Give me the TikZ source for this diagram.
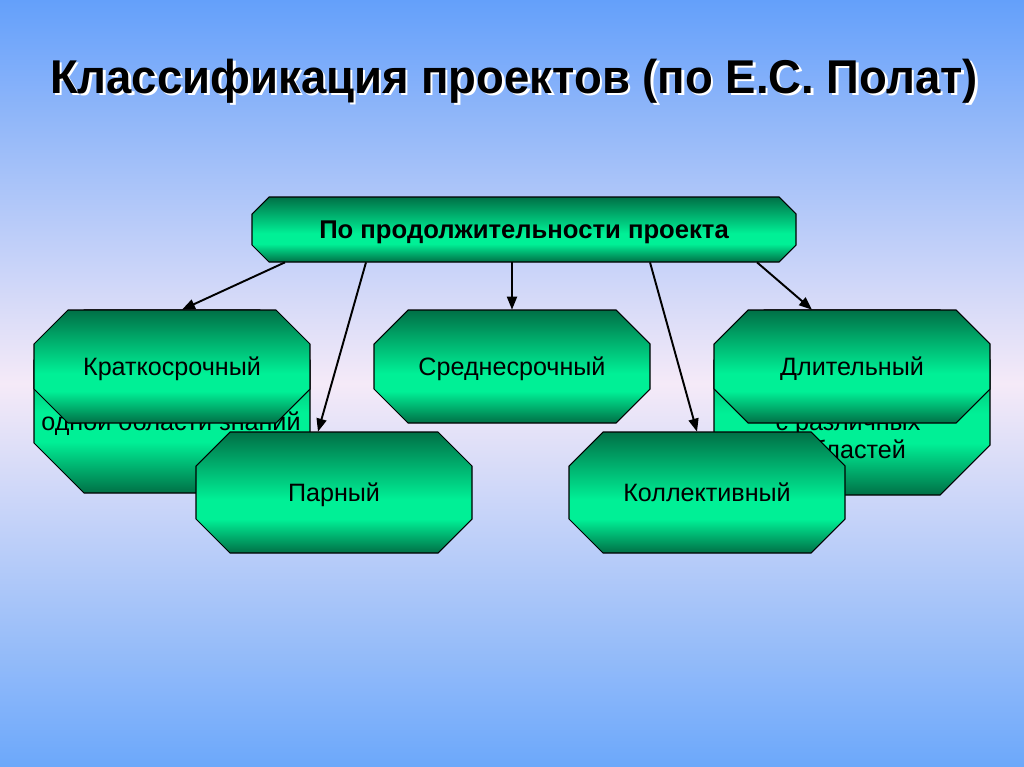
\documentclass[tikz,border=0pt]{standalone}
\usepackage{fontspec}
\setmainfont{Liberation Sans}
\usetikzlibrary{arrows.meta,calc}
\definecolor{bgtop}{RGB}{100,160,250}
\definecolor{bgmid}{RGB}{245,234,248}
\definecolor{bgbot}{RGB}{108,168,250}
\definecolor{gdark}{RGB}{0,112,70}
\definecolor{gbright}{RGB}{0,240,150}
\pgfdeclareverticalshading{bgshade}{100bp}{color(0bp)=(bgbot); color(25bp)=(bgbot); color(50bp)=(bgmid); color(75bp)=(bgtop); color(100bp)=(bgtop)}
\pgfdeclareverticalshading{greenshade}{100bp}{color(0bp)=(gdark); color(25bp)=(gdark); color(39bp)=(gbright); color(47bp)=(gbright); color(75bp)=(gdark); color(100bp)=(gdark)}
\newcommand\myocta[5]{%
  \path[octa] (#1+#5,#2) -- (#3-#5,#2) -- (#3,#2+#5) -- (#3,#4-#5) -- (#3-#5,#4) -- (#1+#5,#4) -- (#1,#4-#5) -- (#1,#2+#5) -- cycle;}
\tikzset{
  octa/.style={draw=black, line width=0.6pt, shade, shading=greenshade},
  lbl/.style={font=\fontsize{14.3}{17}\selectfont, text=black, inner sep=0pt, text height=10.2pt, text depth=0pt, minimum width=5.52cm, minimum height=2.26cm},
  lbltall/.style={lbl, minimum height=2.42cm},
  toplbl/.style={font=\fontsize{14.6}{17}\selectfont\bfseries, text=black, inner sep=0pt, text height=10.45pt, text depth=0pt, minimum width=10.88cm, minimum height=1.3cm},
  hid/.style={font=\fontsize{14.3}{17}\selectfont, text=black, inner sep=0pt, anchor=base},
  arr/.style={draw=black, line width=1.1pt, -{Triangle[length=2.6mm, width=2mm]}},
  ttl/.style={anchor=base, inner sep=0pt, font=\fontsize{27}{30}\selectfont\bfseries}
}
\begin{document}
\begin{tikzpicture}[x=0.02cm,y=-0.02cm]
\useasboundingbox (0,0) rectangle (1024,767);
\shade[shading=bgshade] (0,0) rectangle (1024,767);
% title
\node[ttl, text=white] (titleshadow) at (516.5,95.5) {\resizebox{18.56cm}{\height}{Классификация проектов (по Е.С. Полат)}};
\node[ttl, text=black] (title) at (514,93.5) {\resizebox{18.56cm}{\height}{Классификация проектов (по Е.С. Полат)}};
% back shapes
\myocta{34}{310}{310}{493}{50}
\node[hid] (backltext) at (171,430) {одной области знаний};
\myocta{714}{310}{990}{495}{50}
\node[hid] (backrtext1) at (848,430) {с различных};
\node[hid] (backrtext2) at (852,458) {областей};
% front row
\myocta{34}{310}{310}{423}{34}
\node[lbl] (kr) at (172,366.5) {Краткосрочный};
\myocta{374}{310}{650}{423}{34}
\node[lbl] (sr) at (512,366.5) {Среднесрочный};
\myocta{714}{310}{990}{423}{34}
\node[lbl] (dl) at (852,366.5) {Длительный};
% top box
\myocta{252}{197}{796}{262}{17}
\node[toplbl] (top) at (524,229.5) {По продолжительности проекта};
% second row
\myocta{196}{432}{472}{553}{34}
\node[lbltall] (par) at (334,492.5) {Парный};
\myocta{569}{432}{845}{553}{34}
\node[lbltall] (kol) at (707,492.5) {Коллективный};
% arrows
\draw[arr] ($(top.south)+(-239,0)$) -- ($(kr.north)+(10,0)$);
\draw[arr] ($(top.south)+(-158,0)$) -- ($(par.north)+(-16,0)$);
\draw[arr] ($(top.south)+(-12,0)$) -- (sr.north);
\draw[arr] ($(top.south)+(126,0)$) -- ($(kol.north)+(-10,0)$);
\draw[arr] ($(top.south)+(233,0)$) -- ($(dl.north)+(-40,0)$);
\end{tikzpicture}
\end{document}
